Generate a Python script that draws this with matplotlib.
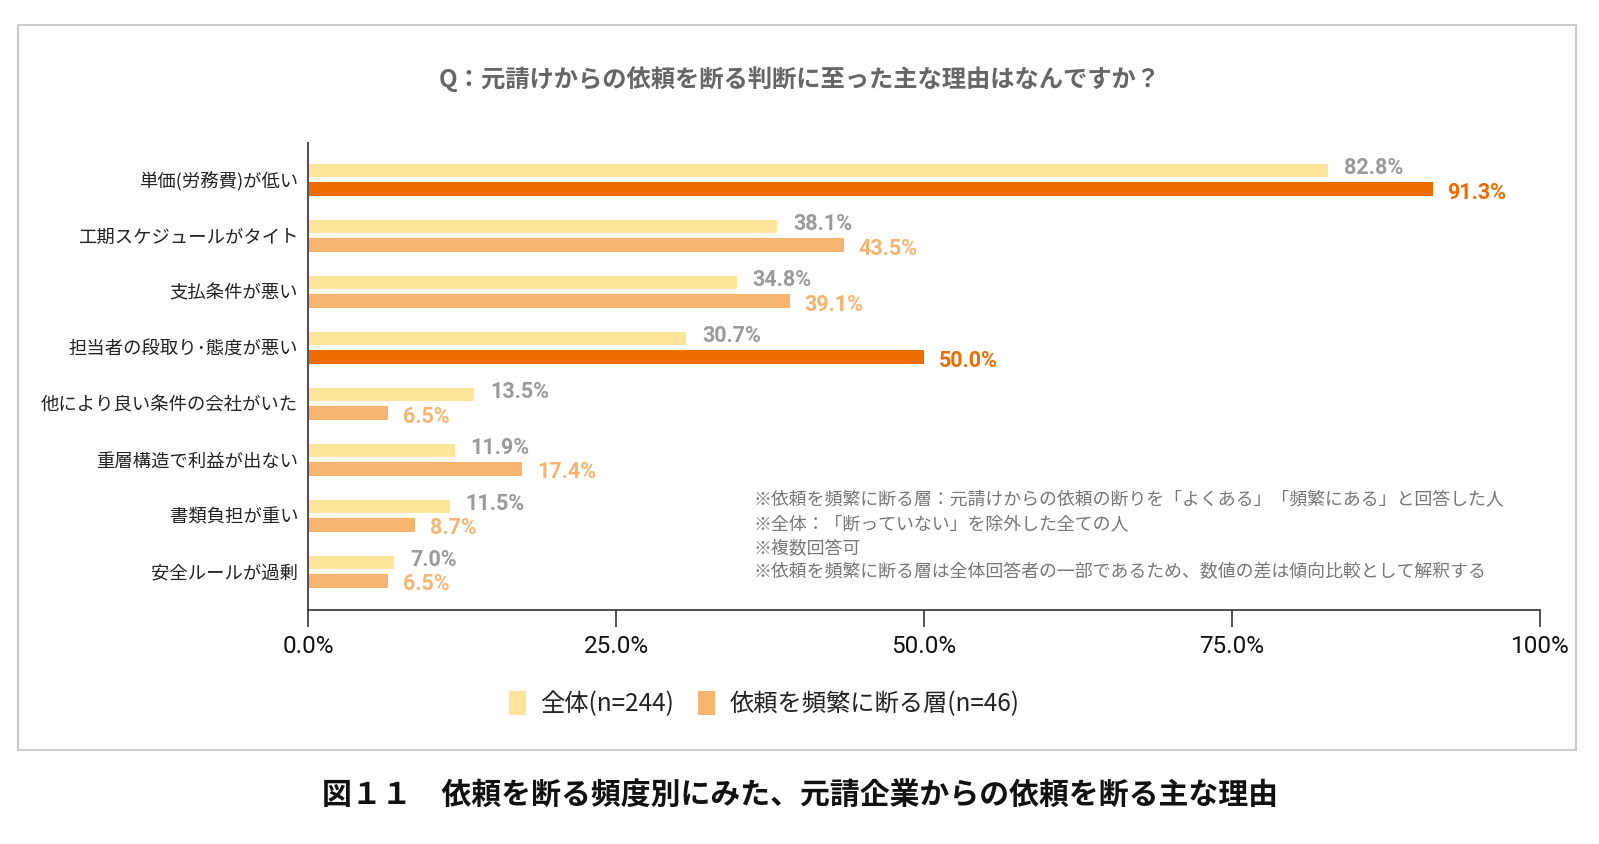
import numpy as np
import matplotlib.pyplot as plt
from matplotlib.patches import Rectangle, Patch

plt.rcParams['font.family'] = ['Noto Sans CJK JP', 'DejaVu Sans']

# データ
categories = ['単価(労務費)が低い', '工期スケジュールがタイト', '支払条件が悪い',
              '担当者の段取り･態度が悪い', '他により良い条件の会社がいた',
              '重層構造で利益が出ない', '書類負担が重い', '安全ルールが過剰']
zentai = [82.8, 38.1, 34.8, 30.7, 13.5, 11.9, 11.5, 7.0]
hinpan = [91.3, 43.5, 39.1, 50.0, 6.5, 17.4, 8.7, 6.5]
highlight = [True, False, False, True, False, False, False, False]
x_ticks = [0, 25, 50, 75, 100]
x_tick_labels = ['0.0%', '25.0%', '50.0%', '75.0%', '100%']
legend_labels = ['全体(n=244)', '依頼を頻繁に断る層(n=46)']
notes = ['※依頼を頻繁に断る層：元請けからの依頼の断りを「よくある」「頻繁にある」と回答した人',
         '※全体：「断っていない」を除外した全ての人',
         '※複数回答可',
         '※依頼を頻繁に断る層は全体回答者の一部であるため、数値の差は傾向比較として解釈する']

c_yellow = '#FFE59A'
c_light = '#F6B46F'
c_dark = '#EC6C00'
c_gray = '#9A9A9A'

fig = plt.figure(figsize=(15.99, 8.44), dpi=100)
ax = fig.add_axes([0.1926, 0.2773, 0.7705, 0.5533])

y = np.arange(len(categories))
h = 0.24
off = 0.165
orange_cols = [c_dark if hl else c_light for hl in highlight]
ax.barh(y - off, zentai, height=h, color=c_yellow)
ax.barh(y + off, hinpan, height=h, color=orange_cols)

for i in range(len(categories)):
    ax.text(zentai[i] + 1.3, y[i] - off - 0.04, f'{zentai[i]:.1f}%', va='center', ha='left',
            fontsize=15.5, fontweight='bold', color=c_gray, family=['Roboto', 'DejaVu Sans'])
    ax.text(hinpan[i] + 1.2, y[i] + off + 0.06, f'{hinpan[i]:.1f}%', va='center', ha='left',
            fontsize=15.5, fontweight='bold', color=orange_cols[i], family=['Roboto', 'DejaVu Sans'])

ax.set_xlim(0, 100)
ax.set_ylim(len(categories) - 1 + 0.68, -0.66)
ax.set_yticks(y)
ax.set_yticklabels(categories, fontsize=13.2, color='#222222')
ax.tick_params(axis='y', length=0, pad=7)
ax.set_xticks(x_ticks)
ax.set_xticklabels(x_tick_labels, fontsize=17.5, color='#111111', family=['Roboto', 'DejaVu Sans'])
ax.tick_params(axis='x', direction='out', length=12, width=1.2, color='#333333', pad=6)

for s in ['top', 'right']:
    ax.spines[s].set_visible(False)
ax.spines['left'].set_color('#555555')
ax.spines['left'].set_linewidth(1.5)
ax.spines['bottom'].set_color('#333333')
ax.spines['bottom'].set_linewidth(1.2)

# 注記
for k, line in enumerate(notes):
    fig.text(0.471, 0.408 - k * 0.0288, line, fontsize=12.9, color='#777777', va='center', ha='left')

# 凡例
handles = [Patch(facecolor=c_yellow), Patch(facecolor=c_light)]
fig.legend(handles, legend_labels, loc='center', bbox_to_anchor=(0.478, 0.166), ncol=2,
           frameon=False, fontsize=17.5, handlelength=0.7, handleheight=1.2, handletextpad=0.6,
           columnspacing=1.0, labelcolor='#222222')

# タイトル・キャプション
fig.text(0.5, 0.906, 'Q：元請けからの依頼を断る判断に至った主な理由はなんですか？', ha='center', va='center',
         fontsize=17.5, fontweight='bold', color='#666666')
fig.text(0.5, 0.058, '図１１　依頼を断る頻度別にみた、元請企業からの依頼を断る主な理由',
         ha='center', va='center', fontsize=21.5, fontweight='bold', color='#111111')

# 外枠
fig.patches.append(Rectangle((0.0115, 0.111), 0.974, 0.859, transform=fig.transFigure,
                             fill=False, edgecolor='#CCCCCC', linewidth=1.5))

fig.savefig('out.png', dpi=100)
